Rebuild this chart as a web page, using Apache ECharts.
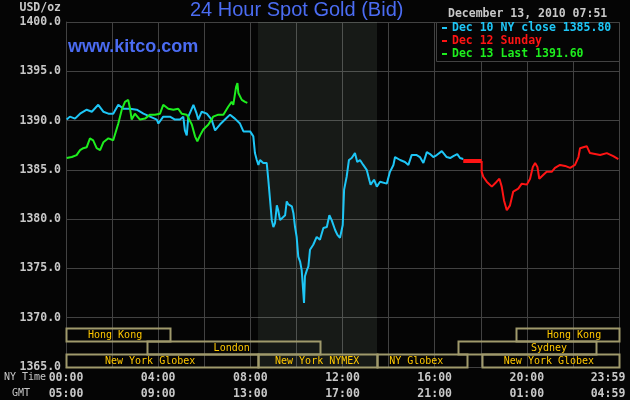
<!DOCTYPE html>
<html>
<head>
<meta charset="utf-8">
<script src="https://cdn.jsdelivr.net/npm/echarts@6/dist/echarts.min.js"></script>
<style>
html,body{margin:0;padding:0;background:#050505;}
#chart{width:630px;height:400px;}
</style>
</head>
<body>
<div id="chart"></div>
<script>
// ---- Data ----
const nyTimeLabels = ['00:00','04:00','08:00','12:00','16:00','20:00','23:59'];
const gmtLabels    = ['05:00','09:00','13:00','17:00','21:00','01:00','04:59'];

const cyanName = 'Dec 10 NY close 1385.80';
const redName = 'Dec 12 Sunday';
const greenName = 'Dec 13 Last 1391.60';

const cyanHours = [0.03,0.17,0.39,0.61,0.90,1.12,1.40,1.62,1.84,2.05,2.27,2.49,2.78,3.07,3.36,3.65,3.94,4.01,4.22,4.51,4.73,4.95,5.09,5.16,5.24,5.31,5.53,5.67,5.74,5.89,6.11,6.32,6.47,6.68,6.90,7.12,7.33,7.55,7.70,7.99,8.13,8.20,8.28,8.35,8.42,8.56,8.71,8.78,8.85,8.93,9.00,9.07,9.15,9.21,9.29,9.36,9.51,9.58,9.65,9.80,9.87,9.94,10.01,10.08,10.16,10.23,10.27,10.33,10.37,10.45,10.52,10.59,10.73,10.88,11.02,11.17,11.32,11.43,11.53,11.68,11.78,11.89,12.01,12.07,12.18,12.28,12.40,12.54,12.64,12.76,12.90,13.05,13.16,13.22,13.37,13.49,13.63,13.92,14.06,14.21,14.28,14.50,14.71,14.86,15.00,15.22,15.36,15.51,15.66,15.80,15.94,16.09,16.31,16.52,16.67,16.81,16.98,17.10,17.24];
const cyanValues = [1390.1,1390.4,1390.2,1390.7,1391.1,1390.9,1391.6,1390.9,1390.7,1390.7,1391.6,1391.2,1391.2,1391.1,1390.7,1390.4,1390.1,1389.7,1390.4,1390.4,1390.1,1390.1,1390.4,1389.0,1388.5,1390.4,1391.6,1390.7,1390.1,1390.9,1390.7,1390.1,1389.0,1389.6,1390.1,1390.6,1390.2,1389.7,1388.9,1388.9,1388.4,1386.7,1386.0,1385.5,1386.0,1385.7,1385.7,1384.0,1382.1,1379.9,1379.2,1379.6,1381.4,1380.9,1379.9,1380.0,1380.4,1381.8,1381.5,1381.3,1380.6,1379.2,1378.2,1376.2,1375.7,1374.8,1373.5,1371.5,1374.2,1374.8,1375.2,1376.9,1377.4,1378.2,1377.9,1379.1,1379.2,1380.4,1379.9,1378.9,1378.4,1378.1,1379.4,1383.0,1384.3,1386.0,1386.2,1386.7,1385.8,1386.0,1385.5,1385.0,1384.0,1383.5,1384.0,1383.3,1383.8,1383.6,1384.8,1385.5,1386.3,1386.0,1385.8,1385.5,1386.5,1386.5,1386.3,1385.7,1386.8,1386.6,1386.3,1386.5,1386.9,1386.3,1386.2,1386.4,1386.6,1386.2,1386.1];

const redFlatHours = [17.24, 18.04];
const redFlatValues = [1385.9, 1385.9];

const redHours = [18.04,18.11,18.26,18.48,18.69,18.81,18.91,19.01,19.13,19.27,19.41,19.63,19.78,20.00,20.14,20.26,20.36,20.46,20.54,20.72,20.86,21.08,21.22,21.44,21.66,21.88,22.09,22.24,22.31,22.45,22.60,22.74,22.96,23.18,23.47,23.75,23.97];
const redValues = [1384.8,1384.3,1383.8,1383.3,1383.8,1384.1,1383.3,1381.9,1380.9,1381.4,1382.8,1383.1,1383.6,1383.5,1384.1,1385.3,1385.7,1385.3,1384.1,1384.5,1384.8,1384.8,1385.2,1385.5,1385.4,1385.2,1385.5,1386.3,1387.2,1387.3,1387.4,1386.7,1386.6,1386.5,1386.7,1386.4,1386.1];

const greenHours = [0.03,0.25,0.46,0.61,0.75,0.90,1.04,1.18,1.33,1.48,1.62,1.84,2.05,2.27,2.42,2.56,2.70,2.78,2.85,2.99,3.21,3.43,3.65,3.86,4.08,4.22,4.44,4.66,4.87,5.02,5.24,5.46,5.60,5.70,5.82,5.96,6.18,6.39,6.61,6.83,7.04,7.19,7.26,7.38,7.44,7.48,7.63,7.77,7.87];
const greenValues = [1386.2,1386.3,1386.5,1387.0,1387.2,1387.3,1388.2,1388.0,1387.2,1387.0,1387.8,1388.2,1388.0,1389.7,1391.1,1391.9,1392.1,1391.2,1390.1,1390.7,1390.1,1390.2,1390.6,1390.6,1390.7,1391.6,1391.2,1391.1,1391.2,1390.7,1390.6,1389.6,1388.4,1387.9,1388.5,1389.1,1389.6,1390.4,1390.6,1390.6,1391.4,1391.9,1391.6,1393.4,1393.8,1392.8,1392.1,1391.9,1391.8];

// NYMEX pit session (shaded)
const pitSession = [8.33, 13.5];

// Market sessions: [start hour, end hour, row, label hour]
const sessionNames = ['Hong Kong','Hong Kong','London','Sydney','New York Globex','New York NYMEX','NY Globex','New York Globex'];
const sessionSpans = [
  [0, 4.5, 0, 2.13],
  [19.55, 24, 0, 22.05],
  [3.5, 11.0, 1, 7.19],
  [17.0, 23.0, 1, 20.96],
  [0, 8.33, 2, 3.65],
  [8.33, 13.5, 2, 10.9],
  [13.5, 17.4, 2, 15.2],
  [18.06, 24, 2, 20.96]
];

const zip = (h, v) => h.map((x, i) => [x, v[i]]);

// ---- Chart ----
const chart = echarts.init(document.getElementById('chart'), null, {renderer: 'canvas'});
const mono = '"DejaVu Sans Mono", "Liberation Mono", monospace';
const labelGray = '#c8c8c8';
const gridGray = '#424242';
const cyan = '#1ec6f6';
const red = '#ff1414';
const green = '#1eee1e';
const Y_MIN = 1365;

const option = {
  backgroundColor: '#050505',
  animation: false,
  title: [
    {text: '24 Hour Spot Gold (Bid)', left: 190, top: 0, padding: 0,
     textStyle: {color: '#4b6cf2', fontSize: 20, fontWeight: 'normal', fontFamily: '"Liberation Sans", Arial, sans-serif'}},
    {text: 'www.kitco.com', left: 68, top: 38, padding: 0,
     textStyle: {color: '#4b6cf2', fontSize: 18, fontWeight: 'bold', fontFamily: '"Liberation Sans", Arial, sans-serif'}},
    {text: 'December 13, 2010 07:51', left: 448, top: 8, padding: 0,
     textStyle: {color: labelGray, fontSize: 11.5, fontWeight: 'bold', fontFamily: mono}},
    {text: 'NY Time', left: 4, top: 372, padding: 0,
     textStyle: {color: labelGray, fontSize: 10, fontWeight: 'normal', fontFamily: mono}},
    {text: 'GMT', left: 12, top: 388, padding: 0,
     textStyle: {color: labelGray, fontSize: 10, fontWeight: 'normal', fontFamily: mono}}
  ],
  graphic: [
    {type: 'rect', z: 5, shape: {x: 436.5, y: 22.5, width: 183, height: 39},
     style: {fill: '#050505', stroke: gridGray, lineWidth: 1}}
  ],
  legend: {
    z: 10,
    orient: 'vertical',
    left: 442, top: 21.5, padding: 0, itemGap: 0,
    icon: 'rect', itemWidth: 5, itemHeight: 2,
    selectedMode: false,
    textStyle: {fontFamily: mono, fontSize: 11.5, fontWeight: 'bold', lineHeight: 13},
    data: [
      {name: cyanName, textStyle: {color: cyan}},
      {name: redName, textStyle: {color: red}},
      {name: greenName, textStyle: {color: green}}
    ]
  },
  grid: {left: 66, right: 11, top: 22, bottom: 33, containLabel: false, outerBoundsMode: 'none'},
  xAxis: {
    type: 'value', min: 0, max: 24, interval: 2,
    axisLine: {show: true, lineStyle: {color: gridGray, width: 1}},
    axisTick: {show: false},
    splitLine: {show: true, lineStyle: {color: gridGray, width: 1}},
    axisLabel: {
      show: true, margin: 3, color: labelGray, fontFamily: mono, fontSize: 11.5, fontWeight: 'bold', lineHeight: 16,
      showMinLabel: true, showMaxLabel: true,
      formatter: function (v) {
        if (Math.round(v) % 4 !== 0) return '';
        const i = Math.round(v) / 4;
        if (i === nyTimeLabels.length - 1) {
          return '{e|' + nyTimeLabels[i] + '}\n{e|' + gmtLabels[i] + '}';
        }
        return nyTimeLabels[i] + '\n' + gmtLabels[i];
      },
      rich: {
        e: {padding: [0, 22, 0, 0], color: labelGray, fontFamily: mono, fontSize: 11.5, fontWeight: 'bold', lineHeight: 16}
      }
    }
  },
  yAxis: {
    type: 'value', min: Y_MIN, max: 1400, interval: 5,
    name: 'USD/oz', nameLocation: 'end', nameGap: 14,
    nameTextStyle: {color: labelGray, fontFamily: mono, fontSize: 11.5, fontWeight: 'bold', align: 'right', verticalAlign: 'middle', padding: [0, 5, 0, 0]},
    axisLine: {show: true, lineStyle: {color: gridGray, width: 1}},
    axisTick: {show: false},
    splitLine: {show: true, lineStyle: {color: gridGray, width: 1}},
    axisLabel: {margin: 5, color: labelGray, fontFamily: mono, fontSize: 11.5, fontWeight: 'bold',
      formatter: v => v.toFixed(1)}
  },
  series: [
    {
      name: cyanName, type: 'line', data: zip(cyanHours, cyanValues),
      showSymbol: false, symbol: 'none', color: cyan,
      lineStyle: {color: cyan, width: 2},
      markArea: {silent: true, itemStyle: {color: 'rgba(220,255,220,0.085)'},
        data: [[{xAxis: pitSession[0]}, {xAxis: pitSession[1]}]]}
    },
    {
      name: redName, type: 'line', data: zip(redFlatHours, redFlatValues),
      showSymbol: false, symbol: 'none', color: red,
      lineStyle: {color: red, width: 4}
    },
    {
      name: redName, type: 'line', data: zip([redFlatHours[1]].concat(redHours), [redFlatValues[1]].concat(redValues)),
      showSymbol: false, symbol: 'none', color: red,
      lineStyle: {color: red, width: 2}
    },
    {
      name: greenName, type: 'line', data: zip(greenHours, greenValues),
      showSymbol: false, symbol: 'none', color: green,
      lineStyle: {color: green, width: 2}
    },
    {
      name: 'sessions', type: 'custom', clip: false, silent: true,
      encode: {x: [0, 1]},
      data: sessionSpans,
      renderItem: function (params, api) {
        const s = api.value(0), e = api.value(1), row = api.value(2), lh = api.value(3);
        const bottom = api.coord([0, Y_MIN])[1];
        const rowH = 13;
        const top = bottom - (3 - row) * rowH;
        const x0 = api.coord([s, Y_MIN])[0];
        const x1 = api.coord([e, Y_MIN])[0];
        const xl = api.coord([lh, Y_MIN])[0];
        return {
          type: 'group',
          children: [
            {type: 'rect', shape: {x: Math.round(x0) + 0.5, y: Math.round(top) + 0.5, width: Math.round(x1 - x0), height: rowH},
             style: {fill: null, stroke: '#a09a6c', lineWidth: 2}},
            {type: 'text', x: xl, y: top + rowH / 2 + 1,
             style: {text: sessionNames[params.dataIndex], fill: '#ffc800', font: '10px ' + mono, align: 'center', verticalAlign: 'middle'}}
          ]
        };
      }
    }
  ]
};
chart.setOption(option);
</script>
</body>
</html>
